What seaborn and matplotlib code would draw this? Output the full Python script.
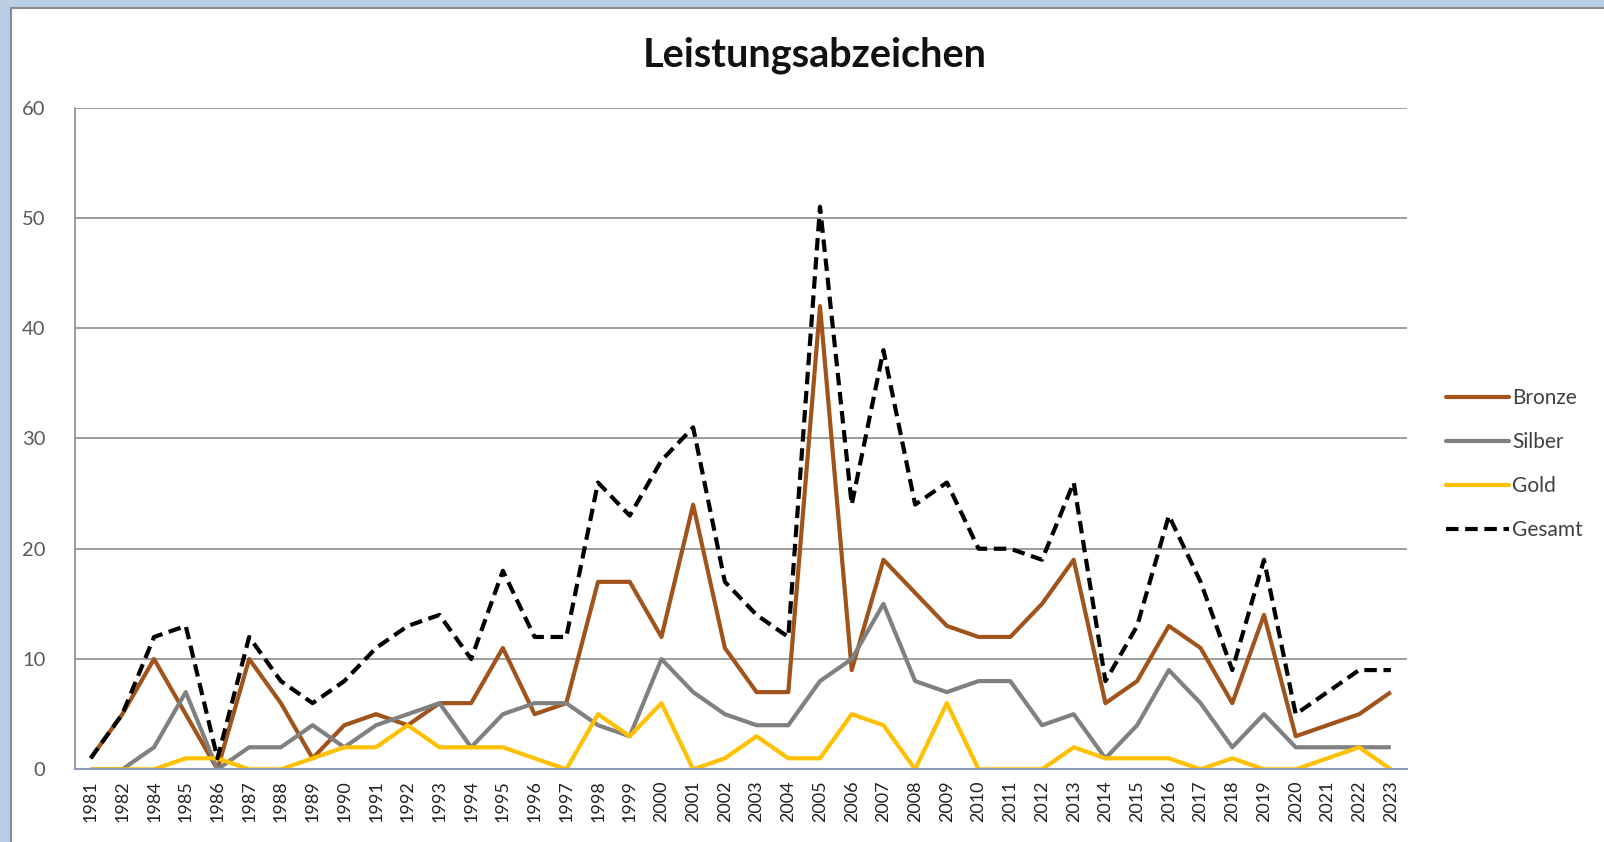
import numpy as np
import pandas as pd
import matplotlib
matplotlib.use("Agg")
import matplotlib.pyplot as plt
from matplotlib.patches import Rectangle
from matplotlib.lines import Line2D
import seaborn as sns

years = ["1981", "1982", "1984", "1985", "1986", "1987", "1988", "1989", "1990", "1991",
         "1992", "1993", "1994", "1995", "1996", "1997", "1998", "1999", "2000", "2001",
         "2002", "2003", "2004", "2005", "2006", "2007", "2008", "2009", "2010", "2011",
         "2012", "2013", "2014", "2015", "2016", "2017", "2018", "2019", "2020", "2021",
         "2022", "2023"]
bronze = [1, 5, 10, 5, 0, 10, 6, 1, 4, 5, 4, 6, 6, 11, 5, 6, 17, 17, 12, 24,
          11, 7, 7, 42, 9, 19, 16, 13, 12, 12, 15, 19, 6, 8, 13, 11, 6, 14, 3, 4, 5, 7]
silber = [0, 0, 2, 7, 0, 2, 2, 4, 2, 4, 5, 6, 2, 5, 6, 6, 4, 3, 10, 7,
          5, 4, 4, 8, 10, 15, 8, 7, 8, 8, 4, 5, 1, 4, 9, 6, 2, 5, 2, 2, 2, 2]
gold = [0, 0, 0, 1, 1, 0, 0, 1, 2, 2, 4, 2, 2, 2, 1, 0, 5, 3, 6, 0,
        1, 3, 1, 1, 5, 4, 0, 6, 0, 0, 0, 2, 1, 1, 1, 0, 1, 0, 0, 1, 2, 0]
gesamt = [1, 5, 12, 13, 1, 12, 8, 6, 8, 11, 13, 14, 10, 18, 12, 12, 26, 23, 28, 31,
          17, 14, 12, 51, 24, 38, 24, 26, 20, 20, 19, 26, 8, 13, 23, 17, 9, 19, 5, 7, 9, 9]
series_names = ["Bronze", "Silber", "Gold", "Gesamt"]
colors = {"Bronze": "#A0541C", "Silber": "#808080", "Gold": "#FFC000", "Gesamt": "#000000"}

rows = []
for name, vals in zip(series_names, [bronze, silber, gold, gesamt]):
    for i, (y, v) in enumerate(zip(years, vals)):
        rows.append({"pos": i, "Jahr": y, "Anzahl": v, "Serie": name})
df = pd.DataFrame(rows)

sns.set_theme(style="white")
plt.rcParams["font.family"] = ["Lato", "DejaVu Sans"]

fig = plt.figure(figsize=(16.04, 8.42), dpi=100)
fig.patch.set_facecolor("#B9CDE5")
bg = Rectangle((11 / 1604, -0.01), 1 - 11 / 1604 + 0.01, 1 - 8 / 842 + 0.01,
               transform=fig.transFigure, facecolor="white", edgecolor="#8C8C8C",
               linewidth=1.5, zorder=-10)
fig.patches.append(bg)

ax = fig.add_axes([0.0466, 0.0863, 0.8304, 0.786])
ax.set_zorder(5)
ax.set_facecolor("white")

sns.lineplot(data=df, x="pos", y="Anzahl", hue="Serie", style="Serie",
             hue_order=series_names, style_order=series_names,
             palette=colors,
             dashes={"Bronze": "", "Silber": "", "Gold": "", "Gesamt": (3, 1.6)},
             linewidth=3, ax=ax, legend=False, sort=False)

for line in ax.get_lines():
    line.set_solid_capstyle("butt")
    line.set_dash_capstyle("butt")

ax.set_xlim(-0.5, len(years) - 0.5)
ax.set_ylim(0, 60)
ax.set_yticks(np.arange(0, 61, 10))
ax.set_xticks(np.arange(len(years)))
ax.set_xticklabels(years, rotation=90, fontsize=13, color="#222222")
ax.tick_params(axis="y", labelsize=14.5, labelcolor="#595959", pad=21, length=0)
ax.tick_params(axis="x", length=0, pad=8)
ax.grid(axis="y", color="#8C8C8C", linewidth=1.2)
ax.set_axisbelow(True)
ax.set_xlabel("")
ax.set_ylabel("")
for s in ["top", "right"]:
    ax.spines[s].set_visible(False)
ax.spines["left"].set_color("#8C8C8C")
ax.spines["left"].set_linewidth(1.2)
ax.spines["bottom"].set_color("#8E9BB8")
ax.spines["bottom"].set_linewidth(1.5)

fig.text(0.508, 0.934, "Leistungsabzeichen", ha="center", va="center",
         fontsize=28.5, fontweight="bold", color="#111111")

handles = []
for name in series_names:
    ls = (0, (3, 1.6)) if name == "Gesamt" else "-"
    handles.append(Line2D([0], [0], color=colors[name], linewidth=3, linestyle=ls))
leg = fig.legend(handles, series_names, loc="center left",
                 bbox_to_anchor=(0.89, 0.449), frameon=False, fontsize=15,
                 handlelength=3.0, handletextpad=0.15, labelspacing=1.15)
for t in leg.get_texts():
    t.set_color("#404040")

fig.savefig("out.png", dpi=100, facecolor=fig.get_facecolor())
